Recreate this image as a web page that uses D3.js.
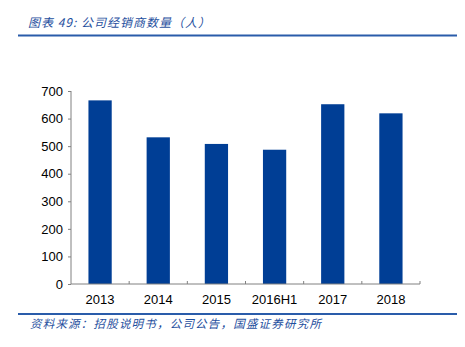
<!DOCTYPE html>
<html>
<head>
<meta charset="utf-8">
<script src="https://cdn.jsdelivr.net/npm/d3@7"></script>
<style>
  body { margin: 0; background: #fff; }
  svg { display: block; }
</style>
</head>
<body>
<svg id="chart" width="465" height="347"></svg>
<script>
// Dealer counts by period
const categories = ["2013", "2014", "2015", "2016H1", "2017", "2018"];
const dealers = [666, 532, 508, 487, 652, 619];
const yTicks = [0, 100, 200, 300, 400, 500, 600, 700];

const titleText = "图表 49:  公司经销商数量（人）";
const sourceText = "资料来源：招股说明书，公司公告，国盛证券研究所";

const svg = d3.select("#chart");
const plot = { left: 71, right: 420, top: 91, bottom: 284 };

const x = d3.scaleBand().domain(categories).range([plot.left, plot.right]).paddingInner(0.6).paddingOuter(0.3);
const y = d3.scaleLinear().domain([0, 700]).range([plot.bottom, plot.top]);

const accent = "#2a5caa";
const textBlue = "#1f4f9e";

// Header and footer rules
svg.append("line").attr("x1", 18).attr("x2", 457).attr("y1", 35.5).attr("y2", 35.5)
  .attr("stroke", accent).attr("stroke-width", 2);
svg.append("line").attr("x1", 18).attr("x2", 457).attr("y1", 314).attr("y2", 314)
  .attr("stroke", accent).attr("stroke-width", 2);

svg.append("text").attr("x", 28).attr("y", 27)
  .attr("font-family", "'Noto Sans CJK SC', sans-serif").attr("font-size", 12)
  .attr("letter-spacing", 1).attr("font-style", "italic").attr("fill", textBlue).text(titleText);

svg.append("text").attr("x", 30).attr("y", 328)
  .attr("font-family", "'Noto Sans CJK SC', sans-serif").attr("font-size", 11.5)
  .attr("letter-spacing", 1.2).attr("font-style", "italic").attr("fill", textBlue).text(sourceText);

// Bars
svg.append("g").selectAll("rect").data(categories).join("rect")
  .attr("x", d => x(d))
  .attr("width", x.bandwidth())
  .attr("y", (d, i) => y(dealers[i]))
  .attr("height", (d, i) => y(0) - y(dealers[i]))
  .attr("fill", "#003e95");

// Y axis
const yAxis = d3.axisLeft(y).tickValues(yTicks).tickSize(3).tickPadding(5).tickFormat(d3.format("d"));
const gy = svg.append("g").attr("transform", `translate(${plot.left},0)`).call(yAxis);
gy.select(".domain").attr("stroke", "#808080").attr("d", `M-0,${plot.top}V${plot.bottom}`);
gy.selectAll(".tick line").attr("stroke", "#808080");
gy.selectAll(".tick text").attr("font-family", "'Liberation Sans', Arial, sans-serif")
  .attr("font-size", 13).attr("fill", "#000");

// X axis: baseline with small ticks between categories
const gx = svg.append("g").attr("transform", `translate(0,${plot.bottom})`);
gx.append("line").attr("x1", plot.left).attr("x2", plot.right).attr("y1", 0).attr("y2", 0)
  .attr("stroke", "#808080");
const boundaries = d3.range(categories.length + 1).map(i => plot.left + i * (plot.right - plot.left) / categories.length);
gx.selectAll("line.sep").data(boundaries.slice(1)).join("line").attr("class", "sep")
  .attr("x1", d => d).attr("x2", d => d).attr("y1", 0).attr("y2", -3)
  .attr("stroke", "#808080");
gx.selectAll("text").data(categories).join("text")
  .attr("x", d => x(d) + x.bandwidth() / 2).attr("y", 20)
  .attr("text-anchor", "middle")
  .attr("font-family", "'Liberation Sans', Arial, sans-serif")
  .attr("font-size", 13).attr("fill", "#000").text(d => d);
</script>
</body>
</html>
